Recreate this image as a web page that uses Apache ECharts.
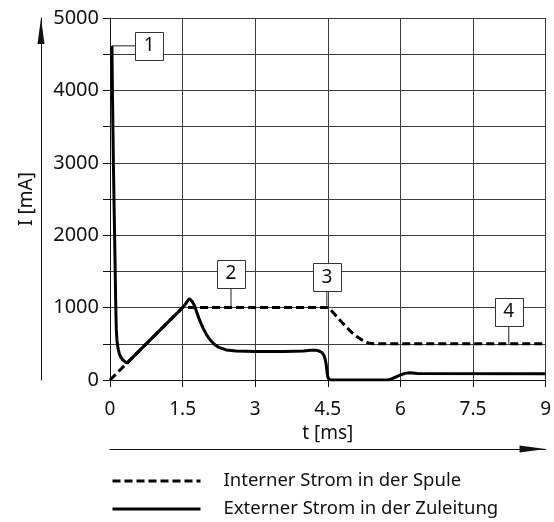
<!DOCTYPE html>
<html lang="de">
<head>
    <meta charset="UTF-8">
    <title>Strom Spule</title>
    <script src="https://cdn.jsdelivr.net/npm/echarts@6/dist/echarts.min.js"></script>
    <style>
        html, body { margin: 0; padding: 0; background: #fff; }
    </style>
</head>
<body>
<div id="main" style="width: 554px;height:522px;"></div>
<script type="text/javascript">
    // Werte: [t in ms, I in mA]
    var internName = 'Interner Strom in der Spule';
    var externName = 'Externer Strom in der Zuleitung';

    var internCurrent = [
        [0, 0], [1.5, 1000], [4.5, 1000], [4.55, 975], [4.6, 940], [4.7, 865],
        [4.8, 790], [4.9, 720], [5.0, 655], [5.1, 600], [5.2, 555], [5.3, 520],
        [5.4, 503], [5.45, 500], [9, 500]
    ];

    var externCurrent = [
        [0.04, 4615], [0.05, 4000], [0.07, 3000], [0.095, 2000], [0.12, 1000],
        [0.13, 700], [0.145, 540], [0.165, 440], [0.19, 370], [0.22, 320],
        [0.26, 280], [0.3, 255], [0.35, 233], [1.5, 1000], [1.55, 1040],
        [1.6, 1090], [1.64, 1125], [1.67, 1120], [1.7, 1085], [1.75, 1020],
        [1.8, 920], [1.85, 830], [1.92, 720], [2.0, 620], [2.08, 545],
        [2.16, 490], [2.25, 450], [2.4, 415], [2.6, 400], [3.0, 395],
        [3.6, 395], [4.0, 400], [4.15, 410], [4.25, 412], [4.32, 400],
        [4.38, 380], [4.42, 340], [4.45, 280], [4.47, 200], [4.49, 80],
        [4.51, 20], [4.56, 0], [5.75, 0], [5.82, 15], [5.9, 40], [5.98, 65],
        [6.05, 82], [6.12, 95], [6.2, 100], [6.35, 90], [9, 85]
    ];

    var xTicks = [0, 1.5, 3, 4.5, 6, 7.5, 9];
    var yTicks = [0, 1000, 2000, 3000, 4000, 5000];

    // Markierungen 1-4: Text, Lage des Kastens, Punkt auf der Kurve
    var markTexts = ['1', '2', '3', '4'];
    var markBoxes = [[0.81, 4615], [2.5, 1470], [4.48, 1420], [8.24, 938]];
    var markAnchors = [[0.04, 4615], [2.5, 1000], [4.48, 1000], [8.24, 500]];

    var fontName = '"Noto Sans", sans-serif';
    var gridColor = '#3c3c3c';

    var myChart = echarts.init(document.getElementById('main'));

    var option = {
        animation: false,
        backgroundColor: '#fff',
        textStyle: { fontFamily: fontName, color: '#111' },
        grid: { left: 110, right: 6, top: 18, bottom: 142 },
        legend: {
            orient: 'vertical',
            left: 111,
            top: 471,
            padding: 0,
            itemWidth: 88,
            itemHeight: 14,
            itemGap: 8,
            selectedMode: false,
            data: [internName, externName],
            itemStyle: { opacity: 0 },
            lineStyle: { width: 3 },
            textStyle: { fontSize: 18.5, lineHeight: 20, color: '#111', fontFamily: fontName, padding: [0, 0, 0, 18] }
        },
        xAxis: [
            {
                type: 'value',
                min: 0, max: 9, interval: 1.5,
                name: 't [ms]',
                nameLocation: 'middle',
                nameGap: 44,
                nameTextStyle: { fontSize: 19, color: '#111' },
                axisLine: { show: true, lineStyle: { color: '#111', width: 1 } },
                axisTick: { show: true, length: 7, lineStyle: { color: '#111' } },
                axisLabel: {
                    fontSize: 19, color: '#111', margin: 20,
                    formatter: function (v) { return xTicks.indexOf(v) >= 0 ? String(v) : ''; }
                },
                splitLine: { show: true, lineStyle: { color: gridColor, width: 1 } }
            },
            {
                // Pfeil unter der t-Achse
                type: 'value', min: 0, max: 9,
                position: 'bottom', offset: 69,
                axisLine: {
                    show: true, onZero: false, symbol: ['none', 'triangle'], symbolSize: [7, 26],
                    symbolOffset: [0, -13], lineStyle: { color: '#111', width: 1 }
                },
                axisTick: { show: false }, axisLabel: { show: false }, splitLine: { show: false }
            }
        ],
        yAxis: [
            {
                type: 'value',
                min: 0, max: 5000, interval: 500,
                name: 'I [mA]',
                nameLocation: 'middle',
                nameGap: 74,
                nameTextStyle: { fontSize: 19, color: '#111' },
                axisLine: { show: true, lineStyle: { color: '#111', width: 1 } },
                axisTick: { show: true, length: 7, lineStyle: { color: '#111' } },
                axisLabel: {
                    fontSize: 20, color: '#111', margin: 11,
                    formatter: function (v) { return yTicks.indexOf(v) >= 0 ? String(v) : ''; }
                },
                splitLine: { show: true, lineStyle: { color: gridColor, width: 1 } }
            },
            {
                // Pfeil links neben der I-Achse
                type: 'value', min: 0, max: 5000,
                position: 'left', offset: 69,
                axisLine: {
                    show: true, onZero: false, symbol: ['none', 'triangle'], symbolSize: [7, 26],
                    symbolOffset: [0, -13], lineStyle: { color: '#111', width: 1 }
                },
                axisTick: { show: false }, axisLabel: { show: false }, splitLine: { show: false }
            }
        ],
        series: [
            {
                name: internName,
                type: 'line',
                symbol: 'none',
                z: 3,
                data: internCurrent,
                lineStyle: { color: '#000', width: 3, type: [8, 4] },
                itemStyle: { color: '#000' }
            },
            {
                name: externName,
                type: 'line',
                symbol: 'none',
                z: 4,
                data: externCurrent,
                lineStyle: { color: '#000', width: 3, type: 'solid' },
                itemStyle: { color: '#000' }
            }
        ]
    };

    myChart.setOption(option);

    // Kaesten mit Nummern und Hinweislinien
    var graphics = [];
    for (var i = 0; i < markTexts.length; i++) {
        var a = myChart.convertToPixel({ gridIndex: 0 }, markAnchors[i]);
        var b = myChart.convertToPixel({ gridIndex: 0 }, markBoxes[i]);
        graphics.push({
            type: 'line', z: 10,
            shape: { x1: a[0], y1: a[1], x2: b[0], y2: b[1] },
            style: { stroke: '#222', lineWidth: 1 }
        });
        graphics.push({
            type: 'rect', z: 11,
            shape: { x: Math.round(b[0] - 14) + 0.5, y: Math.round(b[1] - 14) + 0.5, width: 28, height: 28 },
            style: { fill: '#fff', stroke: '#333', lineWidth: 1 }
        });
        graphics.push({
            type: 'text', z: 12,
            x: b[0], y: b[1],
            style: {
                text: markTexts[i], fontSize: 19, fontFamily: fontName, fill: '#111',
                align: 'center', verticalAlign: 'middle'
            }
        });
    }
    myChart.setOption({ graphic: graphics });
</script>
</body>
</html>
